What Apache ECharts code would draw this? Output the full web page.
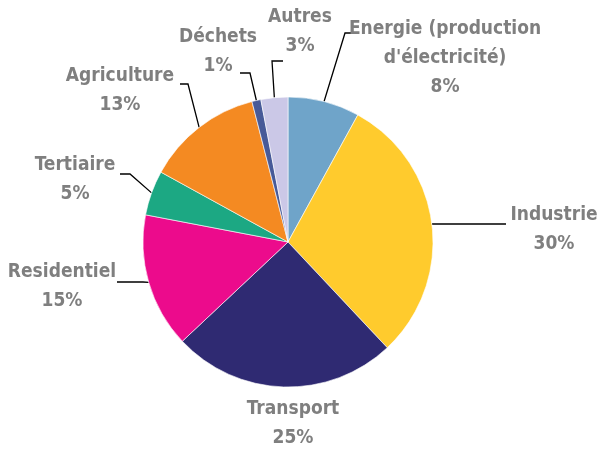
<!DOCTYPE html>
<html>
<head>
<meta charset="utf-8">
<script src="https://cdn.jsdelivr.net/npm/echarts@6/dist/echarts.min.js"></script>
<style>
  html, body { margin: 0; padding: 0; background: #fff; }
  #main { width: 602px; height: 453px; }
</style>
</head>
<body>
<div id="main"></div>
<script>
let myChart = echarts.init(document.getElementById('main'));

// sectors, clockwise from 12 o'clock
const categories = ['Energie (production\nd\'électricité)', 'Industrie', 'Transport', 'Residentiel', 'Tertiaire', 'Agriculture', 'Déchets', 'Autres'];
const values = [8, 30, 25, 15, 5, 13, 1, 3];
const colors = ['#6fa4c9', '#ffcb2d', '#2f2a72', '#ec0b8c', '#1ca883', '#f48a22', '#475a98', '#cbc8e7'];

// where each label sits: [centre x, centre y, elbow x, elbow y, line end x]
const labelSpots = [
  [445, 58, 345, 33, 355],
  [554, 230, 432, 224, 506],
  [293, 424, null, null, null],
  [62, 287, 143, 282, 117],
  [75, 180, 130, 174, 120],
  [120, 91, 188, 84, 180],
  [218, 52, 250, 73, 240],
  [300, 32, 272, 61, 283]
];

let option = {
  animation: false,
  series: [
    {
      type: 'pie',
      center: [288, 242],
      radius: 145,
      startAngle: 90,
      clockwise: true,
      itemStyle: {
        borderColor: '#ffffff',
        borderWidth: 0.6
      },
      label: {
        formatter: '{b}\n{d}%',
        color: '#7f7f7f',
        fontFamily: "'DejaVu Sans Condensed', 'Liberation Sans Narrow', 'DejaVu Sans', sans-serif",
        fontWeight: 'bold',
        fontSize: 19,
        lineHeight: 29,
        align: 'center',
        overflow: 'none'
      },
      labelLine: {
        show: true,
        lineStyle: { color: '#000', width: 1.3 }
      },
      labelLayout: function (params) {
        const s = labelSpots[params.dataIndex];
        const out = { x: s[0], y: s[1], align: 'center', verticalAlign: 'middle' };
        if (s[2] === null) {
          out.labelLinePoints = [[0, 0], [0, 0], [0, 0]];
        } else {
          const p0 = params.labelLinePoints ? params.labelLinePoints[0] : [s[2], s[3]];
          out.labelLinePoints = [p0, [s[2], s[3]], [s[4], s[3]]];
        }
        return out;
      },
      data: categories.map(function (name, i) {
        return { name: name, value: values[i], itemStyle: { color: colors[i] } };
      })
    }
  ]
};

myChart.setOption(option);
</script>
</body>
</html>
